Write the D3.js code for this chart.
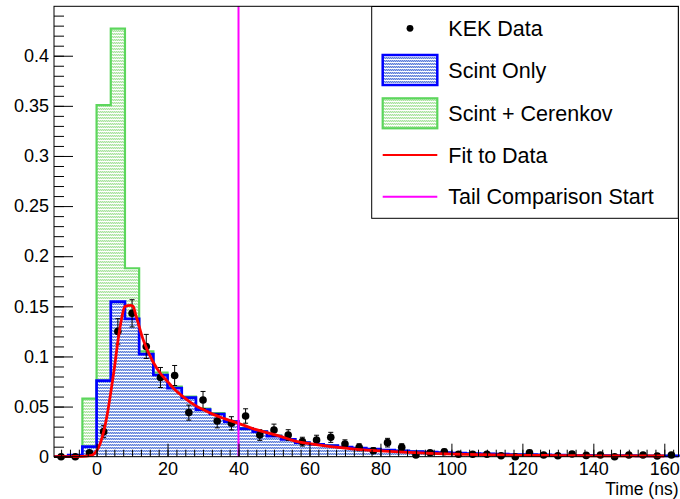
<!DOCTYPE html>
<html>
<head>
<meta charset="utf-8">
<script src="https://cdn.jsdelivr.net/npm/d3@7"></script>
<style>
  body { margin: 0; background: #fff; }
  svg { display: block; font-family: "Liberation Sans", Arial, sans-serif; }
</style>
</head>
<body>
<svg id="graph"></svg>
<script>
// bin edges (ns) : 44 bins of 4 ns from -12 to 164
var binLow = [-12,-8,-4,0,4,8,12,16,20,24,28,32,36,40,44,48,52,56,60,64,68,72,76,80,84,88,92,96,100,104,108,112,116,120,124,128,132,136,140,144,148,152,156,160];
var binWidth = 4;

var scintOnly = [0,0.0015,0.010,0.0758,0.1546,0.1374,0.1024,0.0815,0.0685,0.059,0.047,0.0426,0.035,0.028,0.025,0.0206,0.0173,0.014,0.0124,0.011,0.0095,0.0085,0.0075,0.0065,0.0058,0.0052,0.0046,0.004,0.0036,0.0032,0.0028,0.0025,0.0022,0.002,0.0018,0.0016,0.0014,0.0013,0.0012,0.0011,0.001,0.0009,0.0009,0.0008];
var scintCeren = [0,0.001,0.058,0.3508,0.427,0.188,0.105,0.084,0.070,0.060,0.048,0.0435,0.0355,0.0285,0.0254,0.021,0.0176,0.0142,0.0126,0.0112,0.0096,0.0086,0.0076,0.0066,0.0059,0.0053,0.0047,0.0041,0.0037,0.0032,0.0028,0.0025,0.0022,0.002,0.0018,0.0016,0.0014,0.0013,0.0012,0.0011,0.001,0.0009,0.0009,0.0008];

var dataX = [-10,-6,-2,2,6,10,14,18,22,26,30,34,38,42,46,50,54,58,62,66,70,74,78,82,86,90,94,98,102,106,110,114,118,122,126,130,134,138,142,146,150,154,158,162];
var dataY = [0,0,0.004,0.025,0.125,0.143,0.110,0.079,0.081,0.044,0.0566,0.0356,0.0333,0.0406,0.0216,0.0266,0.0216,0.015,0.0167,0.0193,0.0127,0.0094,0.006,0.014,0.0094,0.0017,0.004,0.005,0.0024,0.0024,0.0024,0.001,0,0.004,0.0017,0.001,0.0027,0.0013,0.0017,0,0.0017,0.0017,0.0007,0.0017];
var dataErr = [0,0,0.002,0.006,0.0127,0.0136,0.012,0.010,0.010,0.0075,0.0085,0.0068,0.0066,0.0072,0.0053,0.0059,0.0053,0.0044,0.0047,0.005,0.0041,0.0035,0.0028,0.0043,0.0035,0.0015,0.0023,0.0025,0.0018,0.0018,0.0018,0.0012,0,0.0023,0.0015,0.0012,0.0019,0.0013,0.0015,0,0.0015,0.0015,0.001,0.0015];

var fitX = [-12,-4,-2,-1,0,1,2,3,4,5,6,7,8,9.5,10.3,11,12,13,14,15,16,18,20,22,24,27,30,33,36,40,44,48,52,56,60,66,72,80,88,96,104,112,120,130,140,150,160];
var fitY = [0,0.0003,0.001,0.002,0.006,0.013,0.025,0.042,0.064,0.088,0.115,0.137,0.150,0.151,0.150,0.142,0.130,0.118,0.109,0.101,0.094,0.083,0.075,0.067,0.061,0.053,0.047,0.042,0.038,0.0333,0.028,0.024,0.020,0.0155,0.013,0.010,0.0078,0.0058,0.0043,0.0031,0.0023,0.0018,0.0014,0.0011,0.0009,0.0008,0.0007];

var tailStart = 40;
var xTicks = [0,20,40,60,80,100,120,140,160];
var yTicks = [0,0.05,0.1,0.15,0.2,0.25,0.3,0.35,0.4];

var legendLabels = ["KEK Data","Scint Only","Scint + Cerenkov","Fit to Data","Tail Comparison Start"];

var width = 680, height = 499;
var frame = { left: 54, right: 678.5, top: 6.3, bottom: 456.7 };

var svg = d3.select("#graph").attr("width", width).attr("height", height);

var x = d3.scaleLinear().domain([-12, 164]).range([frame.left, frame.right]);
var y = d3.scaleLinear().domain([0, 0.4493]).range([frame.bottom, frame.top]);

// fill patterns (ROOT-like dotted fill with white rows)
var defs = svg.append("defs");
function makePattern(id, light, dark) {
  var p = defs.append("pattern").attr("id", id)
    .attr("patternUnits", "userSpaceOnUse")
    .attr("width", 2).attr("height", 3);
  p.append("rect").attr("width", 2).attr("height", 3).attr("fill", "#fff");
  p.append("rect").attr("width", 2).attr("height", 2).attr("fill", light);
  p.append("rect").attr("x", 0).attr("y", 0).attr("width", 1).attr("height", 1).attr("fill", dark);
  p.append("rect").attr("x", 1).attr("y", 1).attr("width", 1).attr("height", 1).attr("fill", dark);
}
makePattern("blueFill", "#a9bbec", "#5e7fd8");
makePattern("greenFill", "#d6f2d0", "#a9e2a0");

function histPath(vals) {
  var pts = [[x(binLow[0]), y(0)]];
  vals.forEach(function(v, i) {
    pts.push([x(binLow[i]), y(v)]);
    pts.push([x(binLow[i] + binWidth), y(v)]);
  });
  pts.push([x(binLow[binLow.length - 1] + binWidth), y(0)]);
  return d3.line()(pts);
}

var plot = svg.append("g");

plot.append("path")
  .attr("d", histPath(scintCeren))
  .attr("fill", "url(#greenFill)")
  .attr("stroke", "#5cd65c")
  .attr("stroke-width", 2.2);

plot.append("path")
  .attr("d", histPath(scintOnly))
  .attr("fill", "url(#blueFill)")
  .attr("stroke", "#0000ff")
  .attr("stroke-width", 2.7);

// axes (ticks inside the frame)
svg.append("g")
  .attr("transform", "translate(0," + frame.bottom + ")")
  .call(d3.axisBottom(x).tickValues(d3.range(-10, 164, 2.5)).tickSize(-7).tickFormat(""))
  .call(g => g.select(".domain").remove());
svg.append("g")
  .attr("transform", "translate(0," + frame.bottom + ")")
  .call(d3.axisBottom(x).tickValues(xTicks).tickSize(-13).tickPadding(6).tickFormat(d3.format("d")))
  .call(g => g.select(".domain").remove())
  .call(g => g.selectAll("text").style("font-size", "18px").attr("fill", "#000"));

svg.append("g")
  .attr("transform", "translate(" + frame.left + ",0)")
  .call(d3.axisLeft(y).tickValues(d3.range(0, 0.445, 0.01)).tickSize(-10).tickFormat(""))
  .call(g => g.select(".domain").remove());
svg.append("g")
  .attr("transform", "translate(" + frame.left + ",0)")
  .call(d3.axisLeft(y).tickValues(yTicks).tickSize(-19).tickPadding(5).tickFormat(d3.format("~g")))
  .call(g => g.select(".domain").remove())
  .call(g => g.selectAll("text").style("font-size", "18px").attr("fill", "#000"));

svg.selectAll(".tick line").attr("stroke", "#000");

// data points with error bars
var pts = plot.append("g");
dataX.forEach(function(dx, i) {
  var cx = x(dx), e = dataErr[i];
  if (e > 0) {
    pts.append("line").attr("x1", cx).attr("x2", cx)
      .attr("y1", y(dataY[i] - e)).attr("y2", y(dataY[i] + e))
      .attr("stroke", "#000");
    [dataY[i] - e, dataY[i] + e].forEach(function(v) {
      pts.append("line").attr("x1", cx - 2.5).attr("x2", cx + 2.5)
        .attr("y1", y(v)).attr("y2", y(v)).attr("stroke", "#000");
    });
  }
  pts.append("circle").attr("cx", cx).attr("cy", y(dataY[i])).attr("r", 3.8).attr("fill", "#000");
});

// fit
plot.append("path")
  .attr("d", d3.line().x(d => x(d[0])).y(d => y(d[1])).curve(d3.curveMonotoneX)(fitX.map((d, i) => [d, fitY[i]])))
  .attr("fill", "none")
  .attr("stroke", "#ff0000")
  .attr("stroke-width", 2.8);

// tail comparison start
plot.append("line")
  .attr("x1", x(tailStart)).attr("x2", x(tailStart))
  .attr("y1", frame.bottom).attr("y2", frame.top)
  .attr("stroke", "#ff00ff").attr("stroke-width", 2);

// frame
svg.append("rect")
  .attr("x", frame.left).attr("y", frame.top)
  .attr("width", frame.right - frame.left).attr("height", frame.bottom - frame.top)
  .attr("fill", "none").attr("stroke", "#000").attr("stroke-width", 1);

svg.append("text")
  .attr("x", frame.right).attr("y", 495)
  .attr("text-anchor", "end")
  .style("font-size", "17.5px")
  .text("Time (ns)");

// legend
var leg = svg.append("g");
leg.append("rect")
  .attr("x", 371.7).attr("y", 6.5).attr("width", 306.6).attr("height", 211.8)
  .attr("fill", "#fff").attr("stroke", "#000").attr("stroke-width", 1);

var rowY = [28.3, 70, 113.3, 155, 196.7];
var symX0 = 382.7, symX1 = 437.3;

leg.append("circle").attr("cx", (symX0 + symX1) / 2).attr("cy", rowY[0]).attr("r", 3.4).attr("fill", "#000");
leg.append("rect").attr("x", symX0).attr("y", rowY[1] - 15).attr("width", symX1 - symX0).attr("height", 30)
  .attr("fill", "url(#blueFill)").attr("stroke", "#0000ff").attr("stroke-width", 2.5);
leg.append("rect").attr("x", symX0).attr("y", rowY[2] - 15).attr("width", symX1 - symX0).attr("height", 30)
  .attr("fill", "url(#greenFill)").attr("stroke", "#5cd65c").attr("stroke-width", 2.2);
leg.append("line").attr("x1", symX0).attr("x2", symX1).attr("y1", rowY[3]).attr("y2", rowY[3])
  .attr("stroke", "#ff0000").attr("stroke-width", 2);
leg.append("line").attr("x1", symX0).attr("x2", symX1).attr("y1", rowY[4]).attr("y2", rowY[4])
  .attr("stroke", "#ff00ff").attr("stroke-width", 2);

leg.selectAll("text.lab").data(legendLabels).enter().append("text")
  .attr("class", "lab")
  .attr("x", 448.3)
  .attr("y", (d, i) => rowY[i])
  .attr("dy", "0.36em")
  .style("font-size", "21.5px")
  .text(d => d);
</script>
</body>
</html>
